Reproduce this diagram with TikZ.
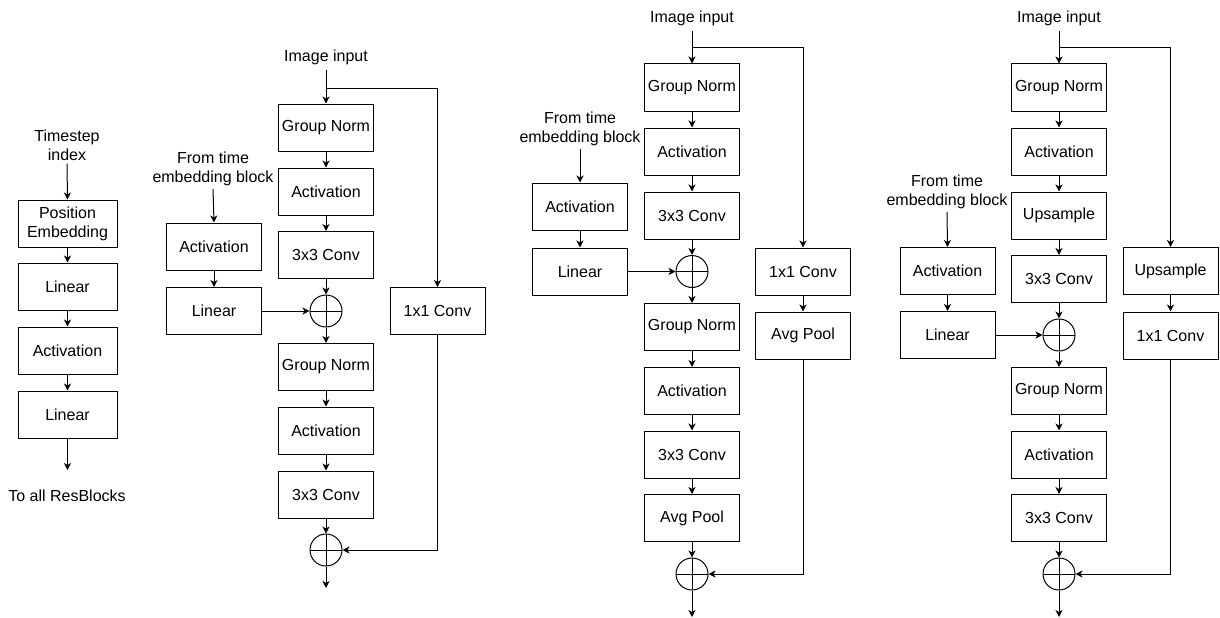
\documentclass[tikz,border=0pt]{standalone}
\usepackage{fontspec}
\setmainfont{Liberation Sans}
\usetikzlibrary{arrows.meta}
\newcommand\blockfont{\fontsize{16}{19}\selectfont}
\tikzset{
  blk/.style={draw, line width=1pt, minimum width=95pt, minimum height=47pt, inner sep=0pt, font=\blockfont},
  wideblk/.style={blk, minimum width=99pt},
  lbl/.style={align=center, font=\blockfont, inner sep=3pt},
  sumnode/.style={circle, draw, line width=1pt, minimum size=32pt, inner sep=0pt,
    path picture={\draw[line width=1pt]
      (path picture bounding box.north) -- (path picture bounding box.south)
      (path picture bounding box.west) -- (path picture bounding box.east);}},
  arr/.style={line width=1pt, -{Stealth[length=7pt,width=7pt,inset=2pt]}},
  ln/.style={line width=1pt},
}
\begin{document}
\begin{tikzpicture}[x=1pt,y=-1pt]
\useasboundingbox (0,0) rectangle (1220,618);

% ---------- time embedding block ----------
\node[lbl] (ts) at (67,145) {Timestep\\index};
\node[wideblk, align=center] (pe) at (67.5,223.5) {Position\\Embedding};
\node[wideblk] (la) at (67.5,286.5) {Linear};
\node[wideblk] (aa) at (67.5,350.5) {Activation};
\node[wideblk] (lb) at (67.5,414.5) {Linear};
\coordinate (tEnd) at (67.5,470);
\node[lbl] (toall) at (67,496) {To all ResBlocks};
\draw[arr] (ts.south) -- (pe.north);
\draw[arr] (pe) -- (la);
\draw[arr] (la) -- (aa);
\draw[arr] (aa) -- (lb);
\draw[arr] (lb.south) -- (tEnd);

% ---------- plain ResBlock ----------
\node[lbl] (inB) at (326,57) {Image input};
\coordinate (jB) at (326,88);
\node[blk] (gnB1) at (326,127.5) {Group Norm};
\node[blk] (acB1) at (326,191.5) {Activation};
\node[blk] (cvB1) at (326,255) {3x3 Conv};
\node[sumnode] (sB1) at (326,311) {};
\node[blk] (gnB2) at (326,367) {Group Norm};
\node[blk] (acB2) at (326,430.5) {Activation};
\node[blk] (cvB2) at (326,494.5) {3x3 Conv};
\node[sumnode] (sB2) at (326,550) {};
\coordinate (outB) at (326,588);
\node[lbl] (tB) at (213,169) {From time\\embedding block};
\node[blk] (taB) at (214,246.5) {Activation};
\node[blk] (tlB) at (214,311) {Linear};
\node[blk] (skB) at (437.5,311) {1x1 Conv};
\draw[ln] ([yshift=-2pt]inB.south) -- (jB);
\draw[arr] (jB) -- (gnB1.north);
\draw[arr] (jB) -| (skB.north);
\draw[arr] (gnB1) -- (acB1);
\draw[arr] (acB1) -- (cvB1);
\draw[arr] (cvB1) -- (sB1);
\draw[arr] (sB1) -- (gnB2);
\draw[arr] (gnB2) -- (acB2);
\draw[arr] (acB2) -- (cvB2);
\draw[arr] (cvB2) -- (sB2);
\draw[arr] (sB2) -- (outB);
\draw[arr] (tB.south) -- (taB.north);
\draw[arr] (taB) -- (tlB);
\draw[arr] (tlB) -- (sB1);
\draw[arr] (skB.south) |- (sB2.east);

% ---------- downsampling ResBlock ----------
\node[lbl] (inD) at (692,18) {Image input};
\coordinate (jD) at (692,48);
\node[blk] (gnD1) at (692,87.5) {Group Norm};
\node[blk] (acD1) at (692,151.5) {Activation};
\node[blk] (cvD1) at (692,215.5) {3x3 Conv};
\node[sumnode] (sD1) at (692,271.5) {};
\node[blk] (gnD2) at (692,327) {Group Norm};
\node[blk] (acD2) at (692,391) {Activation};
\node[blk] (cvD2) at (692,454.5) {3x3 Conv};
\node[blk] (apD) at (692,518) {Avg Pool};
\node[sumnode] (sD2) at (692,574) {};
\coordinate (outD) at (692,617);
\node[lbl] (tD) at (580,129) {From time\\embedding block};
\node[blk] (taD) at (580,206.5) {Activation};
\node[blk] (tlD) at (580,271.5) {Linear};
\node[blk] (skD) at (803,271.5) {1x1 Conv};
\node[blk] (spD) at (803,335.5) {Avg Pool};
\draw[ln] ([yshift=-2pt]inD.south) -- (jD);
\draw[arr] (jD) -- (gnD1.north);
\draw[arr] (jD) -| (skD.north);
\draw[arr] (gnD1) -- (acD1);
\draw[arr] (acD1) -- (cvD1);
\draw[arr] (cvD1) -- (sD1);
\draw[arr] (sD1) -- (gnD2);
\draw[arr] (gnD2) -- (acD2);
\draw[arr] (acD2) -- (cvD2);
\draw[arr] (cvD2) -- (apD);
\draw[arr] (apD) -- (sD2);
\draw[arr] (sD2) -- (outD);
\draw[arr] (tD.south) -- (taD.north);
\draw[arr] (taD) -- (tlD);
\draw[arr] (tlD) -- (sD1);
\draw[arr] (skD) -- (spD);
\draw[arr] (spD.south) |- (sD2.east);

% ---------- upsampling ResBlock ----------
\node[lbl] (inU) at (1059,18) {Image input};
\coordinate (jU) at (1059,48);
\node[blk] (gnU1) at (1059,87.5) {Group Norm};
\node[blk] (acU1) at (1059,151.5) {Activation};
\node[blk] (upU1) at (1059,215.5) {Upsample};
\node[blk] (cvU1) at (1059,279) {3x3 Conv};
\node[sumnode] (sU1) at (1059,335) {};
\node[blk] (gnU2) at (1059,391) {Group Norm};
\node[blk] (acU2) at (1059,454.5) {Activation};
\node[blk] (cvU2) at (1059,518) {3x3 Conv};
\node[sumnode] (sU2) at (1059,574) {};
\coordinate (outU) at (1059,617);
\node[lbl] (tU) at (947,192) {From time\\embedding block};
\node[blk] (taU) at (947.5,271) {Activation};
\node[blk] (tlU) at (947.5,335) {Linear};
\node[blk] (skU) at (1170.5,271) {Upsample};
\node[blk] (scU) at (1170.5,335.5) {1x1 Conv};
\draw[ln] ([yshift=-2pt]inU.south) -- (jU);
\draw[arr] (jU) -- (gnU1.north);
\draw[arr] (jU) -| (skU.north);
\draw[arr] (gnU1) -- (acU1);
\draw[arr] (acU1) -- (upU1);
\draw[arr] (upU1) -- (cvU1);
\draw[arr] (cvU1) -- (sU1);
\draw[arr] (sU1) -- (gnU2);
\draw[arr] (gnU2) -- (acU2);
\draw[arr] (acU2) -- (cvU2);
\draw[arr] (cvU2) -- (sU2);
\draw[arr] (sU2) -- (outU);
\draw[arr] (tU.south) -- (taU.north);
\draw[arr] (taU) -- (tlU);
\draw[arr] (tlU) -- (sU1);
\draw[arr] (skU) -- (scU);
\draw[arr] (scU.south) |- (sU2.east);
\end{tikzpicture}
\end{document}
